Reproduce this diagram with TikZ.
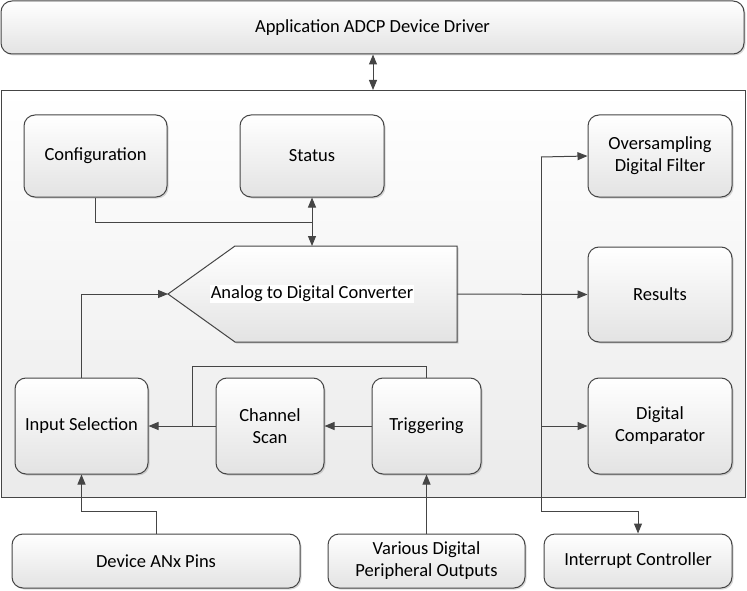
\documentclass[tikz,border=0pt]{standalone}
\usepackage{fontspec}
\setmainfont{Carlito}
\usetikzlibrary{arrows.meta,shadows}
\definecolor{edge}{HTML}{454545}
\tikzset{
  box/.style={draw=edge, line width=1pt, rounded corners=11pt, top color=white, bottom color=black!11,
    drop shadow={shadow xshift=1.5pt, shadow yshift=-1.5pt, opacity=0.25, fill=black!60},
    align=center, inner sep=2pt, font=\fontsize{18.5}{22}\selectfont, text=black},
  conn/.style={draw=edge, line width=1pt},
  arr/.style={conn, -{Triangle[length=10pt,width=8pt]}},
  darr/.style={conn, {Triangle[length=10pt,width=8pt]}-{Triangle[length=10pt,width=8pt]}},
}
\begin{document}
\begin{tikzpicture}[x=1pt,y=-1pt]
\useasboundingbox (0,0) rectangle (747,591);
% container
\node[draw=edge, line width=1pt, top color=white, bottom color=black!8, minimum width=744pt, minimum height=407pt, inner sep=0pt, anchor=north west] (cont) at (0.5,90) {};
% top
\node[box, minimum width=743pt, minimum height=53pt] (app) at (372.5,27.5) {Application ADCP Device Driver};
% inner boxes
\node[box, minimum width=143pt, minimum height=82pt] (cfg) at (95.5,156) {Configuration};
\node[box, minimum width=144pt, minimum height=82pt] (stat) at (312,156) {Status};
\node[box, minimum width=144pt, minimum height=82pt] (ovs) at (660,156) {Oversampling\\Digital Filter};
\node[box, minimum width=144pt, minimum height=95pt] (res) at (660,294.5) {Results};
\node[box, minimum width=144pt, minimum height=96pt] (cmp) at (660,426) {Digital\\Comparator};
\node[box, minimum width=133pt, minimum height=96pt] (insel) at (81.5,426) {Input Selection};
\node[box, minimum width=108pt, minimum height=96pt] (chs) at (270,426) {Channel\\Scan};
\node[box, minimum width=109pt, minimum height=96pt] (trg) at (426.5,426) {Triggering};
% ADC shape
\fill[black!60, opacity=0.25] (169.5,295.5) -- (236.5,247.5) -- (458.5,247.5) -- (458.5,343.5) -- (236.5,343.5) -- cycle;
\draw[draw=edge, line width=1pt, top color=white, bottom color=black!11] (168,294) -- (235,246) -- (457,246) -- (457,342) -- (235,342) -- cycle;
\node[fill=white, inner sep=1pt, font=\fontsize{18.5}{22}\selectfont] (adc) at (312,294) {Analog to Digital Converter};
\coordinate (adctip) at (168,294);
\coordinate (adctop) at (312,246);
\coordinate (adcout) at (457,294);
% bottom
\node[box, minimum width=288pt, minimum height=54pt] (pins) at (156,561) {Device ANx Pins};
\node[box, minimum width=197pt, minimum height=54pt] (per) at (426.5,561) {Various Digital\\Peripheral Outputs};
\node[box, minimum width=188pt, minimum height=54pt] (irq) at (638,561) {Interrupt Controller};
% connectors
\draw[darr] (app.south -| 373,0) -- (cont.north -| 373,0);
\draw[darr] (stat.south) -- (adctop);
\draw[conn] (cfg.south) |- (312,222);
\draw[arr] (insel.north) |- (adctip);
\draw[arr] (adcout) -- (res.west);
\draw[arr] (trg.west) -- (chs.east);
\draw[arr] (chs.west) -- (insel.east);
\draw[conn] (trg.north) -- (426.5,366) -| (192,426);
\coordinate (bus) at (541,157);
\draw[arr] (bus) -- (ovs.west);
\draw[arr] (541,426) -- (cmp.west);
\draw[arr] (bus) -- (541,511) -| (irq.north);
\draw[arr] (pins.north) -- (156,511) -| (insel.south);
\draw[arr] (per.north) -- (trg.south);
\end{tikzpicture}
\end{document}
